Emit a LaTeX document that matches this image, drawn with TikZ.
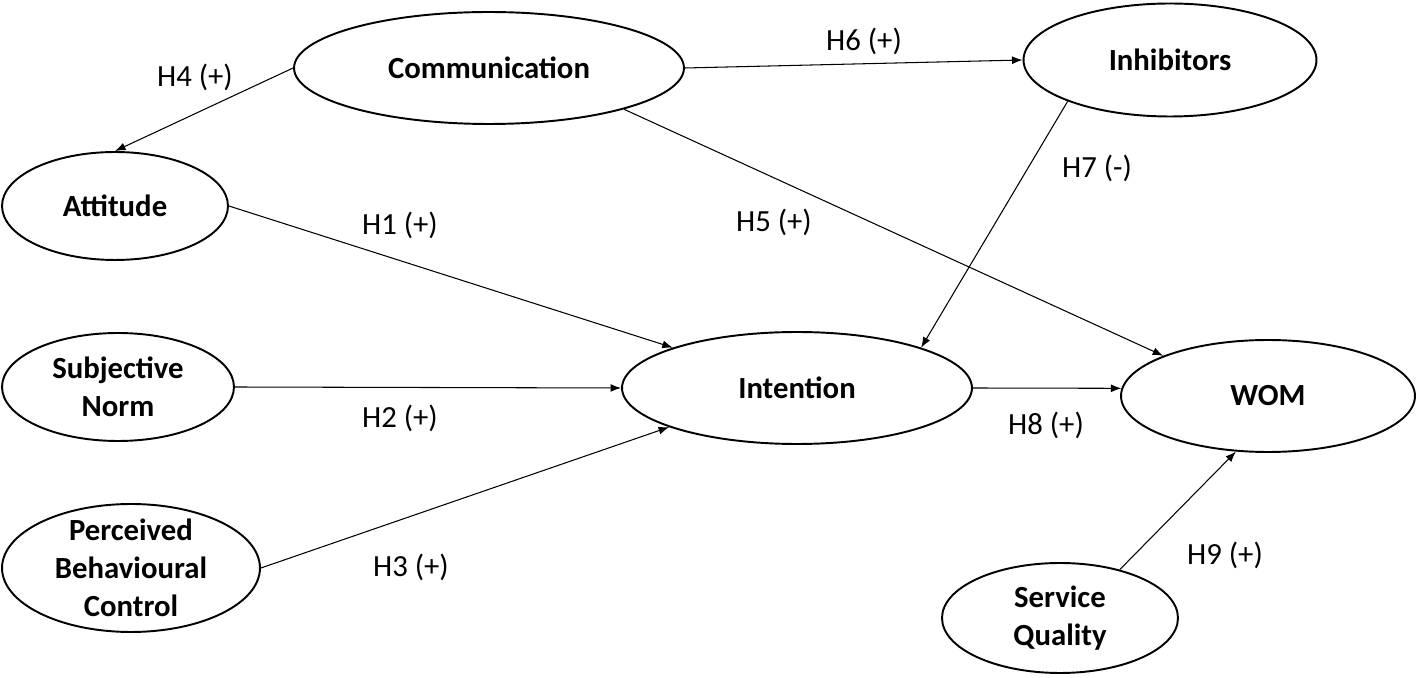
\documentclass[tikz,border=0pt]{standalone}
\usepackage{fontspec}
\setmainfont{Carlito}
\usetikzlibrary{arrows.meta, shapes.geometric}

\begin{document}
\begin{tikzpicture}[
      x = 0.02cm, y = -0.02cm,
 latent/.style = {ellipse, draw, line width=1.1pt, inner sep=0pt,
                  align=center, font=\fontsize{17.5}{21.5}\selectfont\bfseries},
    hyp/.style = {-{Latex[length=6pt,width=4.5pt]}, line width=0.6pt},
    lbl/.style = {font=\fontsize{17.5}{21.5}\selectfont, inner sep=0pt}
                    ]
\useasboundingbox (0,0) rectangle (1418,678);

% constructs
\node[latent, minimum width=7.8cm,  minimum height=2.24cm] (comm) at (489,68)   {Communication};
\node[latent, minimum width=5.86cm, minimum height=2.26cm] (inh)  at (1170,60)  {Inhibitors};
\node[latent, minimum width=4.52cm, minimum height=2.16cm] (att)  at (115,206)  {Attitude};
\node[latent, minimum width=4.64cm, minimum height=2.16cm] (sn)   at (118,387)  {Subjective\\Norm};
\node[latent, minimum width=5.16cm, minimum height=2.56cm,
      inner ysep=-2mm]                                     (pbc)  at (131,568)  {Perceived\\Behavioural\\Control};
\node[latent, minimum width=7cm,    minimum height=2.24cm] (int)  at (797,388)  {Intention};
\node[latent, minimum width=5.88cm, minimum height=2.24cm] (wom)  at (1268,396) {WOM};
\node[latent, minimum width=4.72cm, minimum height=2.2cm]  (sq)   at (1060,618) {Service\\Quality};

% hypotheses
\draw[hyp] (comm.west)  -- (att.north);
\draw[hyp] (comm.east)  -- (inh.west);
\draw[hyp] (comm.-17)   -- (wom.159);
\draw[hyp] (inh.202)    -- (int.18);
\draw[hyp] (att.east)   -- (int.162);
\draw[hyp] (sn.east)    -- (int.west);
\draw[hyp] (pbc.east)   -- (int.197);
\draw[hyp] (int.east)   -- (wom.177);
\draw[hyp] (sq.39)      -- (wom.240);

\node[lbl] (h1) at (400,225)  {H1 (+)};
\node[lbl] (h2) at (400,418)  {H2 (+)};
\node[lbl] (h3) at (411,567)  {H3 (+)};
\node[lbl] (h4) at (195,77)   {H4 (+)};
\node[lbl] (h5) at (774,222)  {H5 (+)};
\node[lbl] (h6) at (864,41)   {H6 (+)};
\node[lbl] (h7) at (1097,168) {H7 (-)};
\node[lbl] (h8) at (1046,425) {H8 (+)};
\node[lbl] (h9) at (1225,555) {H9 (+)};
\end{tikzpicture}
\end{document}
